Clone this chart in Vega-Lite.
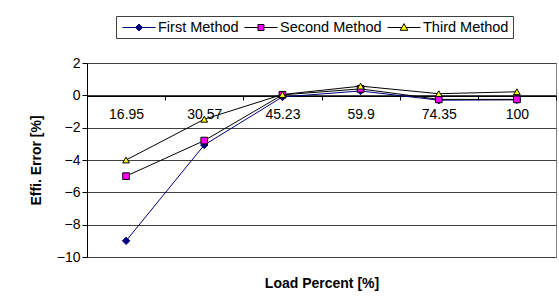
{
  "$schema": "https://vega.github.io/schema/vega-lite/v6.json",
  "autosize": "none",
  "width": 469,
  "height": 194,
  "padding": {"left": 87, "top": 63, "right": 3, "bottom": 40},
  "background": "white",
  "config": {
    "font": "Liberation Sans",
    "view": {"stroke": "#808080", "strokeWidth": 1},
    "axis": {"labelFont": "Liberation Sans", "titleFont": "Liberation Sans", "labelColor": "black", "titleColor": "black"}
  },
  "data": {
    "values": [
      {"Load": "16.95", "Method": "First Method", "Error": -9.0},
      {"Load": "30.57", "Method": "First Method", "Error": -3.07},
      {"Load": "45.23", "Method": "First Method", "Error": -0.1},
      {"Load": "59.9", "Method": "First Method", "Error": 0.27},
      {"Load": "74.35", "Method": "First Method", "Error": -0.3},
      {"Load": "100", "Method": "First Method", "Error": -0.28},
      {"Load": "16.95", "Method": "Second Method", "Error": -5.0},
      {"Load": "30.57", "Method": "Second Method", "Error": -2.8},
      {"Load": "45.23", "Method": "Second Method", "Error": 0.03},
      {"Load": "59.9", "Method": "Second Method", "Error": 0.4},
      {"Load": "74.35", "Method": "Second Method", "Error": -0.25},
      {"Load": "100", "Method": "Second Method", "Error": -0.25},
      {"Load": "16.95", "Method": "Third Method", "Error": -4.0},
      {"Load": "30.57", "Method": "Third Method", "Error": -1.48},
      {"Load": "45.23", "Method": "Third Method", "Error": 0.05},
      {"Load": "59.9", "Method": "Third Method", "Error": 0.57},
      {"Load": "74.35", "Method": "Third Method", "Error": 0.1},
      {"Load": "100", "Method": "Third Method", "Error": 0.22}
    ]
  },
  "encoding": {
    "x": {
      "field": "Load", "type": "ordinal",
      "sort": ["16.95", "30.57", "45.23", "59.9", "74.35", "100"],
      "scale": {"paddingInner": 0, "paddingOuter": 0},
      "axis": {
        "title": "Load Percent [%]", "titleFontSize": 14, "titleFontWeight": "bold", "titlePadding": 155,
        "labelAngle": 0, "labelFontSize": 14, "labelPadding": 7,
        "offset": -161, "domainColor": "black", "tickColor": "black",
        "tickBand": "extent", "tickSize": 4, "grid": false
      }
    },
    "y": {
      "field": "Error", "type": "quantitative",
      "scale": {"domain": [-10, 2], "nice": false, "zero": false},
      "axis": {
        "title": "Effi. Error [%]", "titleFontSize": 14, "titleFontWeight": "bold", "titlePadding": 13,
        "values": [-10, -8, -6, -4, -2, 0, 2], "labelFontSize": 14, "labelPadding": 2,
        "domainColor": "black", "tickColor": "black", "tickSize": 5,
        "grid": true, "gridColor": "#404040", "gridOpacity": 1, "gridWidth": 1
      }
    }
  },
  "layer": [
    {
      "mark": {"type": "line", "strokeWidth": 1},
      "encoding": {
        "color": {
          "field": "Method", "type": "nominal",
          "scale": {"domain": ["First Method", "Second Method", "Third Method"], "range": ["#000080", "#000000", "#000000"]},
          "legend": {
            "title": null, "orient": "none", "legendX": 29, "legendY": -47, "direction": "horizontal",
            "strokeColor": "#404040", "fillColor": "white", "padding": 4,
            "labelFont": "Liberation Sans", "labelFontSize": 14.5, "labelColor": "black", "labelOffset": 23,
            "columnPadding": 3, "symbolSize": 196, "symbolStrokeWidth": 1, "symbolOpacity": 1,
            "encode": {
              "symbols": {
                "update": {
                  "shape": {"signal": "datum.value === 'First Method' ? 'M-0.71,0H1.14M2.14,0H4M1.64,-0.5L2.14,0L1.64,0.5L1.14,0Z' : datum.value === 'Second Method' ? 'M-0.71,0H1.21M2.07,0H4M1.21,-0.43H2.07V0.43H1.21Z' : 'M-0.71,0H1.32M1.96,0H4M1.64,-0.55L2.19,0.4H1.09Z'"},
                  "fill": {"signal": "datum.value === 'First Method' ? '#000080' : datum.value === 'Second Method' ? '#FF00FF' : '#FFFF00'"},
                  "fillOpacity": {"value": 1},
                  "stroke": {"signal": "datum.value === 'First Method' ? '#000080' : '#000000'"}
                }
              }
            }
          }
        }
      }
    },
    {
      "transform": [{"filter": "datum.Method === 'First Method'"}],
      "mark": {"type": "point", "shape": "diamond", "filled": true, "opacity": 1, "size": 55, "fill": "#000080", "stroke": "#000080", "strokeWidth": 1}
    },
    {
      "transform": [{"filter": "datum.Method === 'Second Method'"}],
      "mark": {"type": "point", "shape": "square", "filled": true, "opacity": 1, "size": 45, "fill": "#FF00FF", "stroke": "#000000", "strokeWidth": 1}
    },
    {
      "transform": [{"filter": "datum.Method === 'Third Method'"}],
      "mark": {"type": "point", "shape": "triangle-up", "filled": true, "opacity": 1, "size": 45, "fill": "#FFFF00", "stroke": "#000000", "strokeWidth": 1}
    }
  ]
}
